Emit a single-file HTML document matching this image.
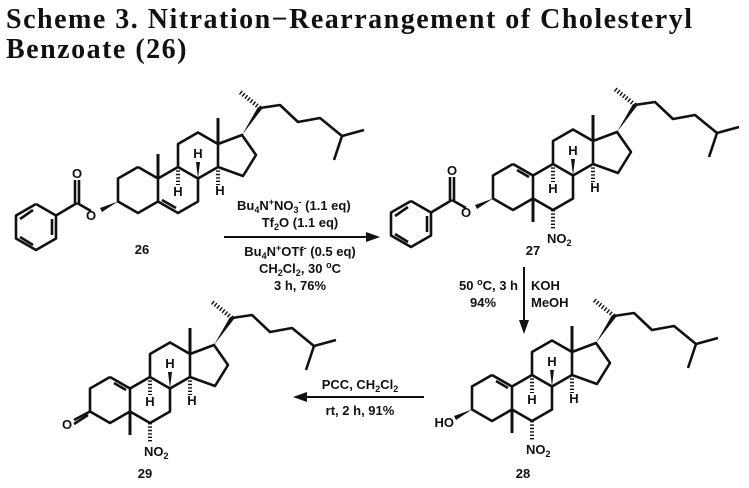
<!DOCTYPE html>
<html><head><meta charset="utf-8"><style>
html,body{margin:0;padding:0;background:#fff;}
body{width:749px;height:488px;overflow:hidden;position:relative;}
.t{position:absolute;left:6px;font-family:"Liberation Serif",serif;font-weight:bold;font-size:28px;letter-spacing:1.5px;color:#111;white-space:nowrap;line-height:30px;}
svg{position:absolute;left:0;top:0;}
svg text{font-family:"Liberation Sans",sans-serif;font-weight:bold;font-size:13px;fill:#111;}
</style></head><body>
<div class="t" style="top:5px">Scheme 3. Nitration−Rearrangement of Cholesteryl</div>
<div class="t" style="top:35px">Benzoate (26)</div>
<svg width="749" height="488" viewBox="0 0 749 488">
<defs>
<g id="sk" fill="none" stroke="#111" stroke-width="2.6" stroke-linejoin="round">
<polyline points="0,-23 20,-11.5 20,11.5 0,23 -20,11.5 -20,-11.5 0,-23"/>
<polyline points="20,-11.5 40,-23 60,-11.5 60,11.5 40,23 20,11.5"/>
<polyline points="40,-23 40,-46 60,-57.5 80,-46 80,-23 60,-11.5"/>
<polyline points="80,-46 104,-55 118,-35 105,-14 80,-23"/>
<polyline points="122,-82 142,-85 160,-68 182,-72 204,-54 226,-60"/>
<line x1="204" y1="-54" x2="196" y2="-30"/>
<line x1="80" y1="-46" x2="80" y2="-72" stroke-width="3"/>
<line x1="122" y1="-82" x2="102" y2="-98" stroke-width="4.5" stroke-dasharray="1.4 2"/>
<line x1="40" y1="-23" x2="40" y2="-5" stroke-width="4" stroke-dasharray="1.4 2"/>
<line x1="80" y1="-23" x2="80" y2="-5" stroke-width="4" stroke-dasharray="1.4 2"/>
</g>
<g id="skf" fill="#111">
<polygon points="104,-55 120,-83 124,-81"/>
<polygon points="60,-11.5 58,-28 62,-28"/>
</g>
<g id="bz" fill="none" stroke="#111" stroke-width="2.6" stroke-linejoin="round">
<polyline points="-102,14 -82,25.5 -82,48.5 -102,60 -122,48.5 -122,25.5 -102,14"/>
<line x1="-86" y1="29" x2="-86" y2="45"/><line x1="-105" y1="55" x2="-118" y2="47"/><line x1="-118" y1="29" x2="-105" y2="20"/>
<line x1="-82" y1="25.5" x2="-61" y2="13"/>
<line x1="-61" y1="13" x2="-47" y2="21"/>
<line x1="-63" y1="13" x2="-63" y2="-10"/><line x1="-59" y1="13" x2="-59" y2="-10"/>
</g>
</defs>

<!-- 26 -->
<g transform="translate(138,190)">
<use href="#sk"/><use href="#skf"/><use href="#bz"/>
<line x1="20" y1="-11.5" x2="20" y2="-36" stroke="#111" stroke-width="3"/>
<line x1="24" y1="10" x2="38" y2="18" stroke="#111" stroke-width="2.6"/>
<polygon points="-20,11.5 -36,22 -38,18" fill="#111"/>
<text x="-47" y="30" text-anchor="middle">O</text>
<text x="-61" y="-12" text-anchor="middle">O</text>
<text x="40" y="6" text-anchor="middle">H</text>
<text x="60" y="-32" text-anchor="middle">H</text>
<text x="82" y="5" text-anchor="middle">H</text>
<text x="4" y="64" text-anchor="middle">26</text>
</g>

<!-- 27 -->
<g transform="translate(513,187)">
<use href="#sk"/><use href="#skf"/><use href="#bz"/>
<line x1="4" y1="-17" x2="16" y2="-10" stroke="#111" stroke-width="2.6"/>
<line x1="20" y1="11.5" x2="20" y2="35" stroke="#111" stroke-width="3"/>
<line x1="40" y1="23" x2="40" y2="42" stroke="#111" stroke-width="4" stroke-dasharray="1.4 2"/>
<polygon points="-20,11.5 -36,22 -38,18" fill="#111"/>
<text x="-47" y="30" text-anchor="middle">O</text>
<text x="-61" y="-12" text-anchor="middle">O</text>
<text x="40" y="6" text-anchor="middle">H</text>
<text x="60" y="-32" text-anchor="middle">H</text>
<text x="82" y="5" text-anchor="middle">H</text>
<text x="34" y="56">NO<tspan font-size="9" dy="3">2</tspan></text>
<text x="20" y="68" text-anchor="middle">27</text>
</g>

<!-- 28 -->
<g transform="translate(492,398)">
<use href="#sk"/><use href="#skf"/>
<line x1="4" y1="-17" x2="16" y2="-10" stroke="#111" stroke-width="2.6"/>
<line x1="20" y1="11.5" x2="20" y2="35" stroke="#111" stroke-width="3"/>
<line x1="40" y1="23" x2="40" y2="42" stroke="#111" stroke-width="4" stroke-dasharray="1.4 2"/>
<polygon points="-20,11.5 -36,22 -38,18" fill="#111"/>
<text x="-38" y="29" text-anchor="end">HO</text>
<text x="40" y="6" text-anchor="middle">H</text>
<text x="60" y="-32" text-anchor="middle">H</text>
<text x="82" y="5" text-anchor="middle">H</text>
<text x="34" y="56">NO<tspan font-size="9" dy="3">2</tspan></text>
<text x="31" y="80" text-anchor="middle">28</text>
</g>

<!-- 29 -->
<g transform="translate(110,400)">
<use href="#sk"/><use href="#skf"/>
<line x1="4" y1="-17" x2="16" y2="-10" stroke="#111" stroke-width="2.6"/>
<line x1="20" y1="11.5" x2="20" y2="35" stroke="#111" stroke-width="3"/>
<line x1="40" y1="23" x2="40" y2="42" stroke="#111" stroke-width="4" stroke-dasharray="1.4 2"/>
<line x1="-20" y1="11.5" x2="-36" y2="20" stroke="#111" stroke-width="2.6"/>
<line x1="-22" y1="15" x2="-36" y2="24" stroke="#111" stroke-width="2.6"/>
<text x="-43" y="29" text-anchor="middle">O</text>
<text x="40" y="6" text-anchor="middle">H</text>
<text x="60" y="-32" text-anchor="middle">H</text>
<text x="82" y="5" text-anchor="middle">H</text>
<text x="34" y="56">NO<tspan font-size="9" dy="3">2</tspan></text>
<text x="35" y="78" text-anchor="middle">29</text>
</g>

<!-- arrow 1 -->
<line x1="224" y1="237" x2="370" y2="237" stroke="#111" stroke-width="2"/>
<polygon points="380,237 366,232 366,242" fill="#111"/>
<text x="237" y="210">Bu<tspan font-size="9" dy="3">4</tspan><tspan dy="-3">N</tspan><tspan font-size="9" dy="-5">+</tspan><tspan dy="5">NO</tspan><tspan font-size="9" dy="3">3</tspan><tspan font-size="9" dy="-8">-</tspan><tspan dy="5"> (1.1 eq)</tspan></text>
<text x="300" y="227" text-anchor="middle">Tf<tspan font-size="9" dy="3">2</tspan><tspan dy="-3">O (1.1 eq)</tspan></text>
<text x="300" y="256" text-anchor="middle">Bu<tspan font-size="9" dy="3">4</tspan><tspan dy="-3">N</tspan><tspan font-size="9" dy="-5">+</tspan><tspan dy="5">OTf</tspan><tspan font-size="9" dy="-5">-</tspan><tspan dy="5"> (0.5 eq)</tspan></text>
<text x="300" y="273" text-anchor="middle">CH<tspan font-size="9" dy="3">2</tspan><tspan dy="-3">Cl</tspan><tspan font-size="9" dy="3">2</tspan><tspan dy="-3">, 30 </tspan><tspan font-size="9" dy="-5">o</tspan><tspan dy="5">C</tspan></text>
<text x="300" y="290" text-anchor="middle">3 h, 76%</text>

<!-- arrow 2 down -->
<line x1="524" y1="267" x2="524" y2="322" stroke="#111" stroke-width="2"/>
<polygon points="524,334 519,320 529,320" fill="#111"/>
<text x="518" y="290" text-anchor="end">50 <tspan font-size="9" dy="-5">o</tspan><tspan dy="5">C, 3 h</tspan></text>
<text x="483" y="307" text-anchor="middle">94%</text>
<text x="531" y="290">KOH</text>
<text x="531" y="307">MeOH</text>

<!-- arrow 3 left -->
<line x1="305" y1="397" x2="424" y2="397" stroke="#111" stroke-width="2"/>
<polygon points="293,397 307,392 307,402" fill="#111"/>
<text x="360" y="389" text-anchor="middle">PCC, CH<tspan font-size="9" dy="3">2</tspan><tspan dy="-3">Cl</tspan><tspan font-size="9" dy="3">2</tspan></text>
<text x="360" y="415" text-anchor="middle">rt, 2 h, 91%</text>
</svg>
</body></html>
